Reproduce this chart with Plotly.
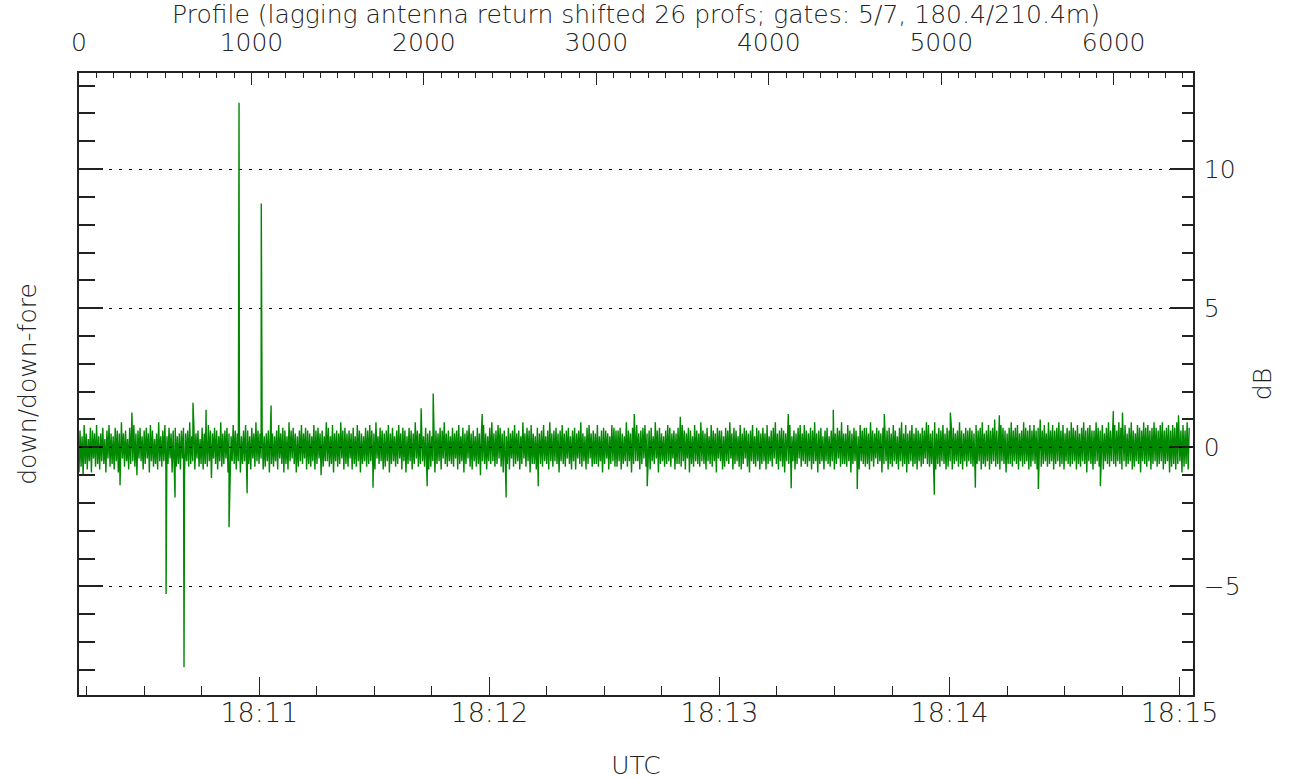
import plotly.graph_objects as go

# ---------------- data ----------------
profile_step = 6  # profiles between consecutive noise samples

noise_db = [
    -0.9, 0.6, -0.7, 0.4, -1.0, 0.8, -0.6, 0.5, -0.8, 0.3, -0.5, 0.7, -0.9, 0.6, -0.4, 0.5, -0.7, 0.8, -0.6, 0.4,
    -0.8, 0.5, -0.5, 0.7, -0.6, 0.3, -0.9, 0.6, -0.4, 0.8, -0.7, 0.5, -0.6, 0.4, -0.8, 0.7, -0.5, 0.6, -0.9, 0.5,
    -0.6, 0.9, -0.4, 0.5, -0.7, 0.6, -0.5, 0.3, -0.8, 0.7, -0.6, 0.4, -0.5, 0.8, -0.7, 0.5, -1.0, 0.6, -0.4, 0.7,
    -0.5, 0.4, -0.8, 0.6, -0.6, 0.7, -0.4, 0.5, -0.9, 0.8, -0.5, 0.6, -0.7, 0.3, -0.6, 0.5, -0.8, 0.9, -0.5, 0.4,
    -0.7, 0.6, -0.5, 0.8, -0.8, 0.4, -0.6, 0.7, -0.4, 0.5, -0.9, 0.6, -0.5, 0.7, -0.7, 0.4, -0.6, 0.5, -0.8, 0.6,
    -0.4, 0.7, -0.9, 0.5, -0.5, 0.6, -0.7, 0.9, -0.6, 0.4, -0.5, 0.8, -0.8, 0.5, -0.4, 0.6, -0.7, 0.3, -0.6, 0.7,
    -0.8, 0.5, -0.6, 0.4, -0.7, 0.8, -0.5, 0.6, -1.1, 0.5, -0.4, 0.7, -0.6, 0.6, -0.8, 0.4, -0.5, 0.9, -0.7, 0.5,
    -0.6, 0.6, -0.4, 0.7, -0.9, 0.5, -0.7, 0.4, -0.5, 0.8, -0.6, 0.6, -0.8, 0.5, -0.5, 0.7, -0.9, 0.4, -0.6, 0.6,
    -0.5, 0.8, -0.7, 0.6, -0.6, 0.4, -0.8, 0.7, -0.4, 0.5, -0.7, 0.9, -0.5, 0.6, -0.6, 0.5, -0.4, 0.7, -0.8, 0.4,
    -0.7, 0.5, -0.5, 0.6, -0.9, 0.7, -0.6, 0.5, -0.7, 0.4, -0.5, 0.6, -0.8, 0.8, -0.4, 0.5, -0.6, 0.7, -0.9, 0.6,
    -0.6, 0.4, -0.8, 0.9, -0.5, 0.6, -0.4, 0.7, -0.6, 0.5, -0.9, 0.4, -0.7, 0.6, -0.5, 0.8, -0.6, 0.5, -0.4, 0.7,
    -0.8, 0.6, -0.6, 0.5, -0.7, 0.4, -0.5, 0.8, -0.8, 0.6, -0.6, 0.7, -0.4, 0.5, -1.0, 0.6, -0.7, 0.4, -0.5, 0.9,
    -0.5, 0.7, -0.7, 0.4, -0.6, 0.8, -0.9, 0.5, -0.5, 0.6, -0.7, 0.5, -0.6, 0.9, -0.4, 0.6, -0.8, 0.7, -0.6, 0.5,
    -0.7, 0.6, -0.4, 0.5, -0.8, 0.7, -0.6, 0.4, -0.7, 0.8, -0.5, 0.6, -0.9, 0.5, -0.6, 0.4, -0.5, 0.7, -0.7, 0.6,
    -0.6, 0.8, -0.5, 0.6, -0.7, 0.5, -0.8, 0.9, -0.4, 0.4, -0.6, 0.7, -0.5, 0.6, -0.8, 0.5, -0.7, 0.6, -0.5, 0.8,
    -0.9, 0.5, -0.6, 0.7, -0.5, 0.4, -0.7, 0.6, -0.6, 0.8, -0.4, 0.5, -0.8, 0.7, -0.5, 0.6, -0.9, 0.4, -0.6, 0.7,
    -0.5, 0.6, -0.8, 0.5, -0.6, 0.9, -0.4, 0.6, -0.7, 0.5, -0.6, 0.8, -0.5, 0.4, -0.7, 0.7, -0.6, 0.5, -0.8, 0.6,
    -0.7, 0.4, -0.5, 0.8, -0.9, 0.6, -0.6, 0.5, -0.5, 0.7, -0.8, 0.6, -0.4, 0.9, -0.6, 0.5, -0.7, 0.6, -0.5, 0.4,
    -0.6, 0.7, -0.7, 0.5, -0.4, 0.6, -0.8, 0.8, -0.6, 0.4, -0.5, 0.7, -0.9, 0.5, -0.6, 0.6, -0.4, 0.8, -0.7, 0.5,
    -0.8, 0.6, -0.5, 0.4, -0.7, 0.7, -0.6, 0.5, -1.0, 0.6, -0.5, 0.8, -0.6, 0.5, -0.8, 0.4, -0.5, 0.7, -0.6, 0.9,
    -0.5, 0.5, -0.7, 0.6, -0.6, 0.8, -0.4, 0.7, -0.7, 0.5, -0.9, 0.6, -0.5, 0.4, -0.6, 0.7, -0.8, 0.5, -0.4, 0.6,
    -0.7, 0.8, -0.6, 0.5, -0.5, 0.6, -0.8, 0.4, -0.6, 0.9, -0.4, 0.5, -0.7, 0.7, -0.5, 0.6, -0.9, 0.8, -0.6, 0.5,
    -0.6, 0.4, -0.8, 0.7, -0.4, 0.5, -0.6, 0.6, -0.7, 0.8, -0.5, 0.4, -0.6, 0.6, -0.8, 0.9, -0.5, 0.5, -0.7, 0.6,
    -0.5, 0.7, -0.6, 0.5, -0.9, 0.6, -0.5, 0.8, -0.6, 0.5, -0.7, 0.6, -0.4, 0.7, -0.6, 0.4, -0.8, 0.6, -0.5, 0.7,
    -0.8, 0.5, -0.4, 0.6, -0.6, 0.9, -0.7, 0.5, -0.5, 0.4, -0.8, 0.7, -0.6, 0.8, -0.4, 0.5, -0.7, 0.6, -0.6, 0.5,
    -0.6, 0.8, -0.7, 0.4, -0.5, 0.6, -0.9, 0.7, -0.6, 0.6, -0.4, 0.5, -0.8, 0.4, -0.6, 0.8, -0.5, 0.7, -0.7, 0.6,
    -0.7, 0.6, -0.5, 0.7, -0.8, 0.5, -0.6, 0.4, -0.5, 0.9, -0.7, 0.6, -0.5, 0.5, -0.9, 0.7, -0.6, 0.4, -0.5, 0.8,
    -0.5, 0.5, -0.8, 0.6, -0.6, 0.7, -0.4, 0.8, -0.7, 0.5, -0.6, 0.6, -0.8, 0.7, -0.5, 0.4, -0.6, 0.9, -0.4, 0.6,
    -0.9, 0.7, -0.6, 0.5, -0.5, 0.4, -0.7, 0.6, -0.6, 0.8, -0.5, 0.7, -0.7, 0.5, -0.4, 0.6, -0.8, 0.5, -0.6, 0.7,
    -0.6, 0.4, -0.7, 0.8, -0.5, 0.6, -0.8, 0.5, -0.4, 0.7, -0.9, 0.6, -0.6, 0.4, -0.7, 0.8, -0.5, 0.6, -0.6, 0.5,
    -0.7, 0.9, -0.5, 0.6, -0.6, 0.5, -0.8, 0.7, -0.5, 0.4, -0.6, 0.8, -0.7, 0.6, -0.5, 0.5, -0.9, 0.7, -0.4, 0.6,
    -0.5, 0.6, -0.8, 0.4, -0.7, 0.7, -0.5, 0.6, -0.6, 0.9, -0.4, 0.5, -0.8, 0.7, -0.6, 0.6, -0.5, 0.4, -0.7, 0.8,
    -0.8, 0.5, -0.6, 0.7, -0.4, 0.6, -0.7, 0.5, -0.9, 0.6, -0.5, 0.8, -0.6, 0.4, -0.7, 0.7, -0.5, 0.6, -0.8, 0.5,
    -0.6, 0.7, -0.5, 0.5, -0.8, 0.8, -0.6, 0.4, -0.5, 0.6, -0.7, 0.7, -0.4, 0.9, -0.6, 0.5, -0.8, 0.6, -0.5, 0.7,
    -0.7, 0.6, -0.9, 0.5, -0.5, 0.7, -0.6, 0.8, -0.7, 0.4, -0.5, 0.6, -0.8, 0.5, -0.6, 0.7, -0.4, 0.8, -0.7, 0.5,
    -0.5, 0.8, -0.6, 0.6, -0.7, 0.5, -0.5, 0.7, -0.8, 0.6, -0.6, 0.9, -0.5, 0.5, -0.9, 0.6, -0.6, 0.7, -0.5, 0.4,
    -0.8, 0.6, -0.5, 0.7, -0.6, 0.4, -0.7, 0.6, -0.5, 0.8, -0.8, 0.5, -0.6, 0.7, -0.4, 0.6, -0.7, 0.9, -0.6, 0.5,
    -0.6, 0.5, -0.7, 0.8, -0.5, 0.6, -0.9, 0.5, -0.6, 0.7, -0.5, 0.6, -0.7, 0.4, -0.8, 0.8, -0.5, 0.6, -0.6, 0.7,
    -0.7, 0.7, -0.6, 0.5, -0.8, 0.9, -0.5, 0.6, -0.7, 0.5, -0.4, 0.7, -0.6, 0.6, -0.5, 0.5, -0.9, 0.7, -0.6, 0.6,
    -0.5, 0.6, -0.8, 0.7, -0.6, 0.5, -0.7, 0.8, -0.5, 0.6, -0.6, 0.4, -0.8, 0.7, -0.5, 0.9, -0.7, 0.5, -0.6, 0.8,
    -0.9, 0.5, -0.6, 0.6, -0.5, 0.8, -0.7, 0.5, -0.6, 0.7, -0.8, 0.6, -0.5, 0.5, -0.7, 0.7, -0.6, 0.6, -0.4, 0.9,
    -0.6, 0.8, -0.7, 0.5, -0.6, 0.6, -0.5, 0.9, -0.8, 0.5, -0.6, 0.7, -0.7, 0.6, -0.5, 0.8, -0.6, 0.5, -0.8, 0.7,
    -0.7, 0.6, -0.5, 0.8, -0.8, 0.7, -0.6, 0.5, -0.5, 0.6, -0.7, 0.9, -0.6, 0.6, -0.8, 0.5, -0.5, 0.7, -0.7, 0.6,
    -0.5, 0.7, -0.6, 0.6, -0.7, 0.5, -0.9, 0.8, -0.6, 0.6, -0.5, 0.7, -0.8, 0.9, -0.6, 0.5, -0.7, 0.6, -0.5, 0.8,
    -0.8, 0.6, -0.6, 0.7, -0.5, 1.0, -0.7, 0.6, -0.6, 0.5, -0.8, 0.8, -0.5, 0.7, -0.6, 0.6, -0.9, 0.5, -0.6, 0.7,
    -0.6, 0.9, -0.7, 0.6, -0.5, 0.7, -0.6, 0.8, -0.8, 0.5, -0.5, 0.6, -0.7, 0.9, -0.6, 0.7, -0.5, 0.6, -0.8, 0.8,
    -0.7, 0.6, -0.5, 0.8, -0.6, 0.6, -0.8, 0.7, -0.5, 1.0, -0.7, 0.6, -0.6, 0.8, -0.5, 0.5, -0.7, 0.9, -0.6, 0.6,
    -0.5, 0.8, -0.8, 0.6, -0.6, 0.7, -0.5, 0.9, -0.7, 0.6, -0.6, 0.8, -0.8, 0.5, -0.5, 0.7, -0.6, 0.6, -0.7, 0.9,
    -0.6, 0.7, -0.5, 0.6, -0.8, 0.8, -0.6, 0.5, -0.7, 0.7, -0.5, 0.9, -0.6, 0.6, -0.9, 0.7, -0.5, 0.8, -0.6, 0.6,
    -0.8, 0.6, -0.6, 0.9, -0.5, 0.7, -0.7, 0.6, -0.6, 0.8, -0.8, 0.5, -0.5, 0.7, -0.6, 0.9, -0.7, 0.6, -0.5, 0.7,
    -0.6, 0.8, -0.7, 0.6, -0.5, 0.9, -0.6, 0.7, -0.8, 0.6, -0.5, 0.8, -0.7, 0.5, -0.6, 0.7, -0.5, 0.9, -0.8, 0.6,
    -0.7, 0.5, -0.5, 0.8, -0.6, 0.7, -0.9, 0.6, -0.5, 0.9, -0.6, 0.7, -0.7, 0.8, -0.5, 0.6, -0.8, 0.7, -0.6, 0.9,
    -0.5, 0.7, -0.7, 0.6, -0.6, 0.8, -0.5, 0.9, -0.8, 0.6, -0.6, 0.7, -0.5, 0.8, -0.9, 0.6, -0.7, 0.8, -0.6, 0.7,
    -0.8, 0.9, -0.6, 0.7, -0.5, 0.6, -0.9, 0.8, -0.7, 0.6, -0.6, 0.9, -0.8, 0.7,
]

spike_profile = [238, 307, 505, 557, 609, 661, 737, 870, 928, 975, 1057, 1114,
                 1705, 1984, 2019, 2054, 2338, 2477, 2663, 3220, 3295, 3487,
                 4113, 4130, 4374, 4513, 4670, 4960, 5053, 5198, 5337, 5563,
                 5923, 5998, 6051, 6376]
spike_db = [-1.36, 1.25, -5.27, -1.8, -7.9, 1.6, 1.35, -2.87, 12.38, -1.65, 8.76, 1.5,
            -1.45, 1.4, -1.4, 1.93, 1.2, -1.8, -1.4, 1.2, -1.4, 1.1,
            1.2, -1.47, 1.35, -1.5, 1.2, -1.7, 1.25, -1.45, 1.15, -1.5,
            -1.4, 1.3, 1.25, 1.15]

profile_range = [0, 6460]
time_range = ["2024-01-01 18:10:12.97", "2024-01-01 18:15:03.5"]
db_range = [-8.9, 13.45]

title_text = "Profile (lagging antenna return shifted 26 profs; gates: 5/7, 180.4/210.4m)"

# ---------------- assemble series ----------------
pts = [(i * profile_step, v) for i, v in enumerate(noise_db)]
pts += list(zip(spike_profile, spike_db))
pts.sort(key=lambda p: p[0])
xs = [p[0] for p in pts]
ys = [p[1] for p in pts]

FONT = dict(family="DejaVu Sans", size=25, color="#222222", weight=200)
FONT_B = dict(family="DejaVu Sans", size=27, color="#222222", weight=200)
AX = "#222222"

fig = go.Figure()
# invisible anchor so the time / left axes are drawn
fig.add_trace(go.Scatter(x=time_range, y=db_range, mode="markers",
                         marker=dict(opacity=0), showlegend=False, hoverinfo="skip"))
fig.add_trace(go.Scatter(x=xs, y=ys, xaxis="x2", yaxis="y2", mode="lines",
                         line=dict(color="#008800", width=1.4), showlegend=False,
                         hoverinfo="skip"))

fig.update_layout(
    width=1289, height=780,
    margin=dict(l=79, r=96, t=73, b=85),
    paper_bgcolor="white", plot_bgcolor="white",
    font=FONT,
    showlegend=False,
    xaxis=dict(
        type="date", range=time_range, side="bottom", automargin=False,
        tickformat="%H:%M", dtick=60000, tick0="2024-01-01 18:00:00",
        ticks="inside", ticklen=18, tickwidth=1, tickcolor=AX,
        minor=dict(dtick=15000, tick0="2024-01-01 18:00:00", ticks="inside",
                   ticklen=9, tickwidth=1, tickcolor=AX, showgrid=False),
        showline=True, linecolor=AX, linewidth=1.5,
        showgrid=False, zeroline=False,
        tickfont=FONT_B,
        ticklabelstandoff=-7,
        title=dict(text="UTC", standoff=37, font=FONT),
        layer="above traces",
    ),
    xaxis2=dict(
        overlaying="x", anchor="y2", side="top", range=profile_range, automargin=False,
        dtick=1000, tick0=0,
        ticks="inside", ticklen=12, tickwidth=1, tickcolor=AX,
        minor=dict(dtick=100, ticks="inside", ticklen=5, tickwidth=1,
                   tickcolor=AX, showgrid=False),
        showline=True, linecolor=AX, linewidth=1.5,
        showgrid=False, zeroline=False,
        ticklabelstandoff=10,
        title=dict(text=title_text, standoff=0, font=FONT),
        layer="above traces",
    ),
    yaxis=dict(
        range=db_range, side="left", dtick=5, tick0=0, automargin=False,
        ticks="inside", ticklen=24, tickwidth=1.5, tickcolor=AX,
        minor=dict(dtick=1, ticks="inside", ticklen=16, tickwidth=1.5,
                   tickcolor=AX, showgrid=False),
        showticklabels=False,
        showline=True, linecolor=AX, linewidth=1.5,
        showgrid=False, zeroline=False,
        title=dict(text="down/down-fore", standoff=34, font=FONT),
        layer="above traces",
    ),
    yaxis2=dict(
        overlaying="y", anchor="x2", side="right", range=db_range, automargin=False,
        dtick=5, tick0=0,
        ticks="inside", ticklen=23, tickwidth=1.5, tickcolor=AX,
        minor=dict(dtick=1, ticks="inside", ticklen=11, tickwidth=1.5,
                   tickcolor=AX, showgrid=False),
        showline=True, linecolor=AX, linewidth=1.5,
        showgrid=True, gridcolor="black", gridwidth=1, griddash="3px,7px",
        zeroline=False,
        ticklabelstandoff=4,
        title=dict(text="dB", standoff=14, font=FONT),
        layer="above traces",
    ),
)

# dotted zero reference drawn over the trace, as in the original
fig.add_hline(y=0, yref="y2", line=dict(color="black", width=1, dash="3px,7px"),
              layer="above")

fig.write_html("out.html", config={"displayModeBar": False},
               post_script="document.body.style.margin='0px';")
